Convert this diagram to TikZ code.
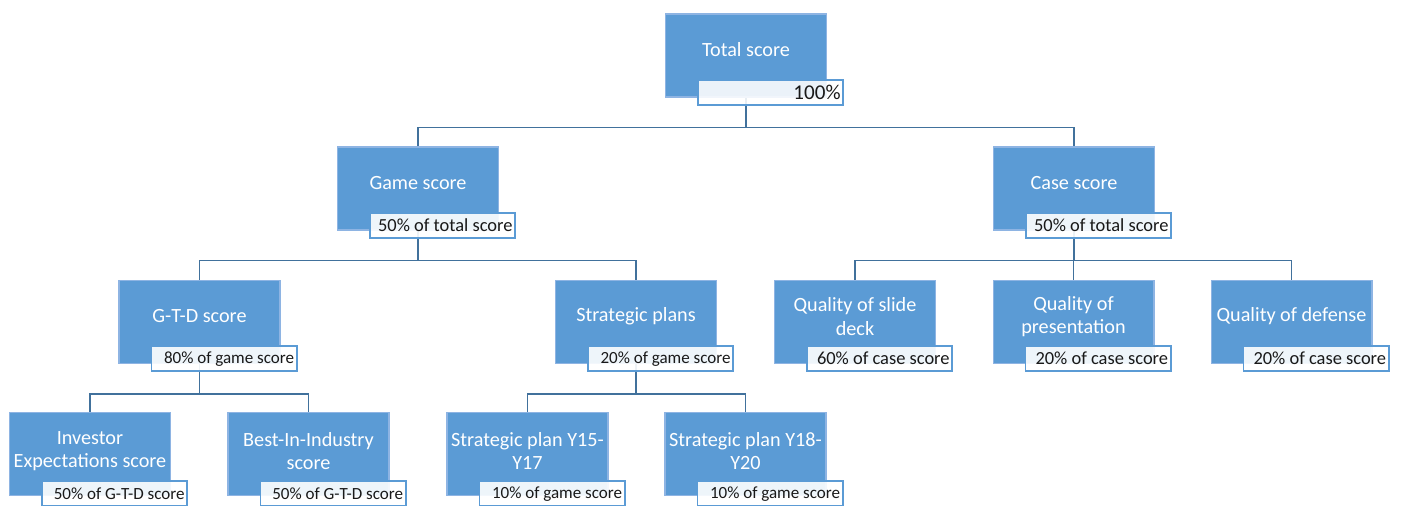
\documentclass[tikz,border=0pt]{standalone}
\usepackage{fontspec}
\setmainfont{Carlito}
\usetikzlibrary{positioning,calc,backgrounds}

\definecolor{boxblue}{HTML}{5B9BD5}
\definecolor{boxedge}{HTML}{8EB4E3}
\definecolor{linkblue}{HTML}{41719C}

\begin{document}
\begin{tikzpicture}[
    x=0.02cm, y=-0.02cm,
    % blue score boxes and their titles
    score/.style={rectangle, fill=boxblue, draw=boxedge, line width=0.6pt,
                  minimum width=3.22cm, minimum height=1.66cm, inner sep=0pt},
    boxtext/.style={text=white, align=center, inner sep=1pt,
                    font=\fontsize{11.5}{13.5}\selectfont},
    % weight tags on the lower right of each box
    share/.style={rectangle, draw=boxblue, line width=0.9pt, fill=white,
                  fill opacity=0.9, text opacity=1, text=black!90,
                  minimum height=0.5cm, inner xsep=1.5pt, inner ysep=2pt,
                  text width=2.8cm, align=flush right,
                  font=\fontsize{10.5}{12}\selectfont},
    smallshare/.style={share, font=\fontsize{9.7}{11}\selectfont},
    % tree connectors
    link/.style={draw=linkblue, line width=0.8pt}
]
\useasboundingbox (0,0) rectangle (1402,505);

% Top level
\node[score] (total) at (746,55.5) {};
\node[boxtext] (total-t) at ([yshift=0.11cm]total.center) {Total score};
\node[share, anchor=south east, fill opacity=0.88,
      font=\fontsize{12}{14}\selectfont]
      (total-p) at ([shift={(17,8)}]total.south east) {100\%};

% Second level
\node[score] (game) at (418,188.5) {};
\node[boxtext] (game-t) at ([yshift=0.11cm]game.center) {Game score};
\node[share, anchor=south east] (game-p) at ([shift={(17,8)}]game.south east) {50\% of total score};

\node[score] (case) at (1074,188.5) {};
\node[boxtext] (case-t) at ([yshift=0.11cm]case.center) {Case score};
\node[share, anchor=south east] (case-p) at ([shift={(17,8)}]case.south east) {50\% of total score};

% Third level - game side
\node[score] (gtd) at (199.5,322) {};
\node[boxtext] (gtd-t) at ([yshift=0.11cm]gtd.center) {G-T-D score};
\node[smallshare, anchor=south east] (gtd-p) at ([shift={(17,8)}]gtd.south east) {80\% of game score};

\node[score] (strat) at (636,322) {};
\node[boxtext] (strat-t) at ([yshift=0.11cm]strat.center) {Strategic plans};
\node[smallshare, anchor=south east] (strat-p) at ([shift={(17,8)}]strat.south east) {20\% of game score};

% Third level - case side
\node[score] (slide) at (855,322) {};
\node[boxtext] (slide-t) at ([yshift=0.11cm]slide.center) {Quality of slide\\deck};
\node[share, anchor=south east] (slide-p) at ([shift={(17,8)}]slide.south east) {60\% of case score};

\node[score] (pres) at (1073.5,322) {};
\node[boxtext] (pres-t) at ([yshift=0.11cm]pres.center) {Quality of\\presentation};
\node[share, anchor=south east] (pres-p) at ([shift={(17,8)}]pres.south east) {20\% of case score};

\node[score] (def) at (1291.5,322) {};
\node[boxtext] (def-t) at ([yshift=0.11cm]def.center) {Quality of defense};
\node[share, anchor=south east] (def-p) at ([shift={(17,8)}]def.south east) {20\% of case score};

% Fourth level (runs off the page bottom)
\node[score] (inv) at (90,454) {};
\node[boxtext] (inv-t) at ([yshift=0.06cm]inv.center) {Investor\\Expectations score};
\node[smallshare, anchor=south east] (inv-p) at ([shift={(17,11)}]inv.south east) {50\% of G-T-D score};

\node[score] (bii) at (308.5,454) {};
\node[boxtext] (bii-t) at ([yshift=0.06cm]bii.center) {Best-In-Industry\\score};
\node[smallshare, anchor=south east] (bii-p) at ([shift={(17,11)}]bii.south east) {50\% of G-T-D score};

\node[score] (plan1) at (527.5,454) {};
\node[boxtext] (plan1-t) at ([yshift=0.06cm]plan1.center) {Strategic plan Y15-\\Y17};
\node[smallshare, anchor=south east] (plan1-p) at ([shift={(17,11)}]plan1.south east) {10\% of game score};

\node[score] (plan2) at (745.5,454) {};
\node[boxtext] (plan2-t) at ([yshift=0.06cm]plan2.center) {Strategic plan Y18-\\Y20};
\node[smallshare, anchor=south east] (plan2-p) at ([shift={(17,11)}]plan2.south east) {10\% of game score};

% Tree connectors
\begin{scope}[on background layer]
    \draw[link] (total.south) -- ++(0,30) -| (game.north);
    \draw[link] (total.south) -- ++(0,30) -| (case.north);
    \draw[link] (game.south) -- ++(0,30) -| (gtd.north);
    \draw[link] (game.south) -- ++(0,30) -| (strat.north);
    \draw[link] (case.south) -- ++(0,30) -| (slide.north);
    \draw[link] (case.south) -- ++(0,30) -| (pres.north);
    \draw[link] (case.south) -- ++(0,30) -| (def.north);
    \draw[link] (gtd.south) -- ++(0,30) -| (inv.north);
    \draw[link] (gtd.south) -- ++(0,30) -| (bii.north);
    \draw[link] (strat.south) -- ++(0,30) -| (plan1.north);
    \draw[link] (strat.south) -- ++(0,30) -| (plan2.north);
\end{scope}

\end{tikzpicture}
\end{document}
